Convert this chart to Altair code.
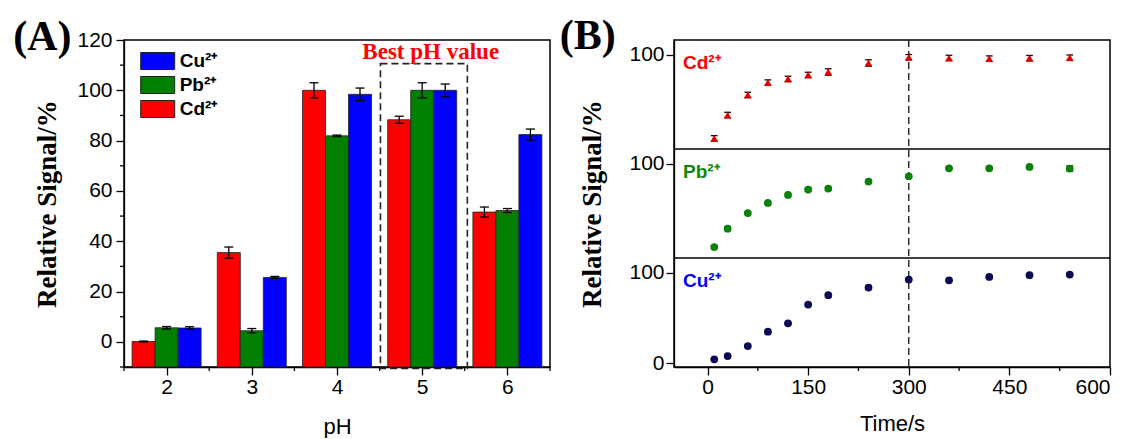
import altair as alt
import pandas as pd

# ---------------- Panel A data ----------------
ph = [2, 3, 4, 5, 6]
metals_a = ["Cd²⁺", "Pb²⁺", "Cu²⁺"]
cd_ph = [0.15, 35.5, 100.0, 88.3, 51.6]
pb_ph = [5.6, 4.4, 81.9, 100.0, 52.2]
cu_ph = [5.5, 25.6, 98.4, 100.0, 82.4]
cd_ph_err = [0.15, 2.2, 3.0, 1.4, 2.0]
pb_ph_err = [0.5, 0.9, 0.3, 3.0, 0.8]
cu_ph_err = [0.5, 0.4, 2.5, 2.5, 2.2]
best_ph_range = [4.51, 5.53]
best_box_top = [110.6]
best_label = ["Best pH value"]
best_label_pos = [5.1, 115.3]
ph_major_ticks = [2, 3, 4, 5, 6]
ph_minor_ticks = [1.5, 2.5, 3.5, 4.5, 5.5, 6.5]
sig_major_ticks = [0, 20, 40, 60, 80, 100, 120]
sig_minor_ticks = [-10, 10, 30, 50, 70, 90, 110]

# ---------------- Panel B data ----------------
metals_b = ["Cd²⁺", "Pb²⁺", "Cu²⁺"]
times = [10, 30, 60, 90, 120, 150, 180, 240, 300, 360, 420, 480, 540]
cd_t = [7.7, 33.4, 55.5, 69.1, 73.1, 77.5, 80.8, 90.7, 97.0, 96.2, 95.5, 96.0, 96.5]
pb_t = [8.1, 28.3, 45.5, 56.6, 65.4, 71.3, 72.4, 80.2, 86.0, 94.8, 94.8, 96.3, 94.5]
cu_t = [4.4, 8.1, 19.1, 34.9, 44.1, 64.7, 75.0, 83.5, 92.3, 91.5, 95.2, 97.1, 97.8]
cd_t_err = [3, 3, 3, 3, 3, 3, 3.5, 3.5, 3, 3, 3, 3, 3]
pb_t_err = [1.5, 2.0, 1.5, 1.5, 1.5, 2.0, 1.5, 1.5, 1.5, 1.2, 1.2, 1.2, 3.0]
cu_t_err = [1.2, 1.2, 1.2, 1.2, 1.2, 1.2, 1.8, 1.8, 1.2, 1.2, 1.2, 1.2, 1.5]
best_time = [300]
time_major_ticks = [0, 150, 300, 450, 600]
time_minor_ticks = [75, 225, 375, 525]
band_span = 120          # each stacked sub-panel covers -4 .. 116
band_lo = -4
sub_ticks = [0, 100, 220, 340]      # 0/100 of bottom, 100 of middle, 100 of top
sub_tick_labels = ["0", "100", "100", "100"]
sub_separators = [116, 236]

SERIF = "Liberation Serif"
SANS = "Liberation Sans"

# ---------- Panel A ----------
rows = []
for slot, (name, vals, errs) in enumerate(zip(metals_a, [cd_ph, pb_ph, cu_ph], [cd_ph_err, pb_ph_err, cu_ph_err])):
    for p, v, e in zip(ph, vals, errs):
        rows.append({"pH": p, "metal": name, "value": v, "err": e, "slot": slot})
df_a = pd.DataFrame(rows)

W_A, H_A = 426, 327
xs_a = alt.Scale(domain=[1.5, 6.5], nice=False)
ys_a = alt.Scale(domain=[-10, 120], nice=False)

x_axis_a = alt.Axis(values=ph_major_ticks, format="d", tickSize=8, title="pH", labelPadding=1,
                    titlePadding=19, labelFontSize=21)
y_axis_a = alt.Axis(
    values=sig_major_ticks, tickSize=8, labelFontSize=21,
    title="Relative Signal/%", titleFont=SERIF, titleFontWeight="bold", titleFontSize=27,
    labelPadding=4, titlePadding=15,
)

base_a = alt.Chart(df_a).transform_calculate(
    xc="datum.pH + (datum.slot - 1) * 0.27",
    x0="datum.pH + (datum.slot - 1) * 0.27 - 0.135",
    x1="datum.pH + (datum.slot - 1) * 0.27 + 0.135",
    c0="datum.pH + (datum.slot - 1) * 0.27 - 0.053",
    c1="datum.pH + (datum.slot - 1) * 0.27 + 0.053",
    lo="datum.value - datum.err",
    hi="datum.value + datum.err",
    base="-10",
)

bars = base_a.mark_bar(stroke="#222222", strokeWidth=0.8).encode(
    x=alt.X("x0:Q", scale=xs_a, axis=x_axis_a),
    x2="x1",
    y=alt.Y("value:Q", scale=ys_a, axis=y_axis_a),
    y2="base",
    color=alt.Color(
        "metal:N",
        scale=alt.Scale(domain=["Cu²⁺", "Pb²⁺", "Cd²⁺"], range=["#0000FF", "#007F00", "#FF0000"]),
        legend=alt.Legend(
            title=None, orient="none", legendX=21.7, legendY=9,
            symbolType="M-1.5,-0.75H1.5V0.75H-1.5Z", symbolSize=514,
            symbolStrokeColor="#222222", symbolStrokeWidth=1, symbolOpacity=1,
            labelFont=SANS, labelFontWeight="bold", labelFontSize=19,
            labelOffset=10, rowPadding=1, padding=0,
        ),
    ),
)
stems = base_a.mark_rule(color="black", strokeWidth=1.3).encode(
    x=alt.X("xc:Q", scale=xs_a), y=alt.Y("lo:Q", scale=ys_a), y2="hi"
)
caps_lo = base_a.mark_rule(color="black", strokeWidth=1.3).encode(
    x=alt.X("c0:Q", scale=xs_a), x2="c1", y=alt.Y("lo:Q", scale=ys_a)
)
caps_hi = base_a.mark_rule(color="black", strokeWidth=1.3).encode(
    x=alt.X("c0:Q", scale=xs_a), x2="c1", y=alt.Y("hi:Q", scale=ys_a)
)

box_df = pd.DataFrame({"x0": [best_ph_range[0]], "x1": [best_ph_range[1]], "top": best_box_top, "bot": [-10.6]})
box = alt.Chart(box_df).mark_rect(
    fillOpacity=0, stroke="#222222", strokeWidth=1.6, strokeDash=[7, 4]
).encode(
    x=alt.X("x0:Q", scale=xs_a), x2="x1",
    y=alt.Y("top:Q", scale=ys_a), y2="bot",
)
lab_df = pd.DataFrame({"t": best_label, "x": [best_label_pos[0]], "y": [best_label_pos[1]]})
best_text = alt.Chart(lab_df).mark_text(
    font=SERIF, fontWeight="bold", fontSize=23, color="#FF0000"
).encode(x=alt.X("x:Q", scale=xs_a), y=alt.Y("y:Q", scale=ys_a), text="t:N")

minor_x_a = alt.Chart(pd.DataFrame({"v": ph_minor_ticks})).mark_rule(color="black", strokeWidth=1.3).encode(
    x=alt.X("v:Q", scale=xs_a), y=alt.value(H_A), y2=alt.value(H_A + 4)
)
minor_y_a = alt.Chart(pd.DataFrame({"v": sig_minor_ticks})).mark_rule(color="black", strokeWidth=1.3).encode(
    y=alt.Y("v:Q", scale=ys_a), x=alt.value(0), x2=alt.value(-4)
)

tag_a = alt.Chart(pd.DataFrame({"t": ["(A)"]})).mark_text(
    font=SERIF, fontWeight="bold", fontSize=42, align="left", baseline="alphabetic", color="black"
).encode(x=alt.value(-110.7), y=alt.value(10.3), text="t:N")

panel_a = alt.layer(
    bars, stems, caps_lo, caps_hi, box, best_text, minor_x_a, minor_y_a, tag_a
).properties(width=W_A, height=H_A)

# ---------- Panel B (three stacked bands in one plot) ----------
W_B, H_B = 436, 327
xs_b = alt.Scale(domain=[-50, 600], nice=False)
ys_b = alt.Scale(domain=[band_lo, band_lo + 3 * band_span], nice=False)

rows_b = []
for band, (name, vals, errs) in enumerate(zip(metals_b, [cd_t, pb_t, cu_t], [cd_t_err, pb_t_err, cu_t_err])):
    for t, v, e in zip(times, vals, errs):
        rows_b.append({"time": t, "metal": name, "value": v, "err": e, "band": 2 - band})
df_b = pd.DataFrame(rows_b)

base_b = alt.Chart(df_b).transform_calculate(
    yv=f"datum.value + datum.band * {band_span}",
    lo=f"datum.value - datum.err + datum.band * {band_span}",
    hi=f"datum.value + datum.err + datum.band * {band_span}",
    c0="datum.time - 5",
    c1="datum.time + 5",
)

x_axis_b = alt.Axis(values=time_major_ticks, tickSize=8, title="Time/s", labelPadding=1,
                    titlePadding=16, labelFontSize=21)
label_map = "{" + ",".join(f"'{v}':'{l}'" for v, l in zip(sub_ticks, sub_tick_labels)) + "}"
y_axis_b = alt.Axis(
    values=sub_ticks, tickSize=8, labelPadding=2, labelFontSize=21,
    labelExpr=f"{label_map}[datum.value + '']",
    title="Relative Signal/%", titleFont=SERIF, titleFontWeight="bold", titleFontSize=27, titlePadding=22,
)

fills = alt.Scale(domain=metals_b, range=["#E00000", "#0A820A", "#0A0A55"])
errs_c = alt.Scale(domain=metals_b, range=["#2A0000", "#0A2A0A", "#1A1AAA"])
shapes = alt.Scale(domain=metals_b, range=["triangle-up", "circle", "circle"])

vline = alt.Chart(pd.DataFrame({"t": best_time})).mark_rule(
    color="#222222", strokeWidth=1.4, strokeDash=[7, 4]
).encode(x=alt.X("t:Q", scale=xs_b, axis=x_axis_b))

stems_b = base_b.mark_rule(strokeWidth=1.3).encode(
    x=alt.X("time:Q", scale=xs_b, axis=x_axis_b),
    y=alt.Y("lo:Q", scale=ys_b, axis=y_axis_b), y2="hi",
    stroke=alt.Stroke("metal:N", scale=errs_c, legend=None),
)
caps_b_lo = base_b.mark_rule(strokeWidth=1.3).encode(
    x=alt.X("c0:Q", scale=xs_b), x2="c1", y=alt.Y("lo:Q", scale=ys_b),
    stroke=alt.Stroke("metal:N", scale=errs_c, legend=None),
)
caps_b_hi = base_b.mark_rule(strokeWidth=1.3).encode(
    x=alt.X("c0:Q", scale=xs_b), x2="c1", y=alt.Y("hi:Q", scale=ys_b),
    stroke=alt.Stroke("metal:N", scale=errs_c, legend=None),
)
pts_b = base_b.mark_point(filled=True, size=60, opacity=1).encode(
    x=alt.X("time:Q", scale=xs_b), y=alt.Y("yv:Q", scale=ys_b),
    fill=alt.Fill("metal:N", scale=fills, legend=None),
    shape=alt.Shape("metal:N", scale=shapes, legend=None),
)
seps = alt.Chart(pd.DataFrame({"y": sub_separators})).mark_rule(color="black", strokeWidth=1.5).encode(
    y=alt.Y("y:Q", scale=ys_b)
)
minor_x_b = alt.Chart(pd.DataFrame({"v": time_minor_ticks})).mark_rule(color="black", strokeWidth=1.3).encode(
    x=alt.X("v:Q", scale=xs_b), y=alt.value(H_B), y2=alt.value(H_B + 4)
)
lab_b_df = pd.DataFrame({"t": metals_b, "band": [2, 1, 0], "col": ["#FF0000", "#0A8A0A", "#0000FF"]})
lab_b = alt.Chart(lab_b_df).transform_calculate(
    ly=f"{band_lo + band_span} + datum.band * {band_span} - 31.4"
).mark_text(font=SANS, fontWeight="bold", fontSize=19, align="left", baseline="alphabetic").encode(
    x=alt.value(9), y=alt.Y("ly:Q", scale=ys_b), text="t:N",
    color=alt.Color("col:N", scale=None),
)
tag_b = alt.Chart(pd.DataFrame({"t": ["(B)"]})).mark_text(
    font=SERIF, fontWeight="bold", fontSize=42, align="left", baseline="alphabetic", color="black"
).encode(x=alt.value(-114.3), y=alt.value(8.7), text="t:N")

panel_b = alt.layer(
    vline, stems_b, caps_b_lo, caps_b_hi, pts_b, seps, minor_x_b, lab_b, tag_b
).properties(width=W_B, height=H_B)

chart = alt.hconcat(panel_a, panel_b, spacing=6).properties(
    padding={"left": 4, "top": 5, "right": 0, "bottom": 0}
).configure_view(
    stroke="black", strokeWidth=1.5
).configure_axis(
    grid=False, domainColor="black", domainWidth=1.3, tickColor="black", tickWidth=1.3,
    labelColor="black", labelFont=SANS, labelFontSize=21, titleFont=SANS, titleFontSize=22,
    titleFontWeight="normal", titleColor="black",
)

chart.save("out.html", embed_options={"renderer": "svg", "actions": False})
